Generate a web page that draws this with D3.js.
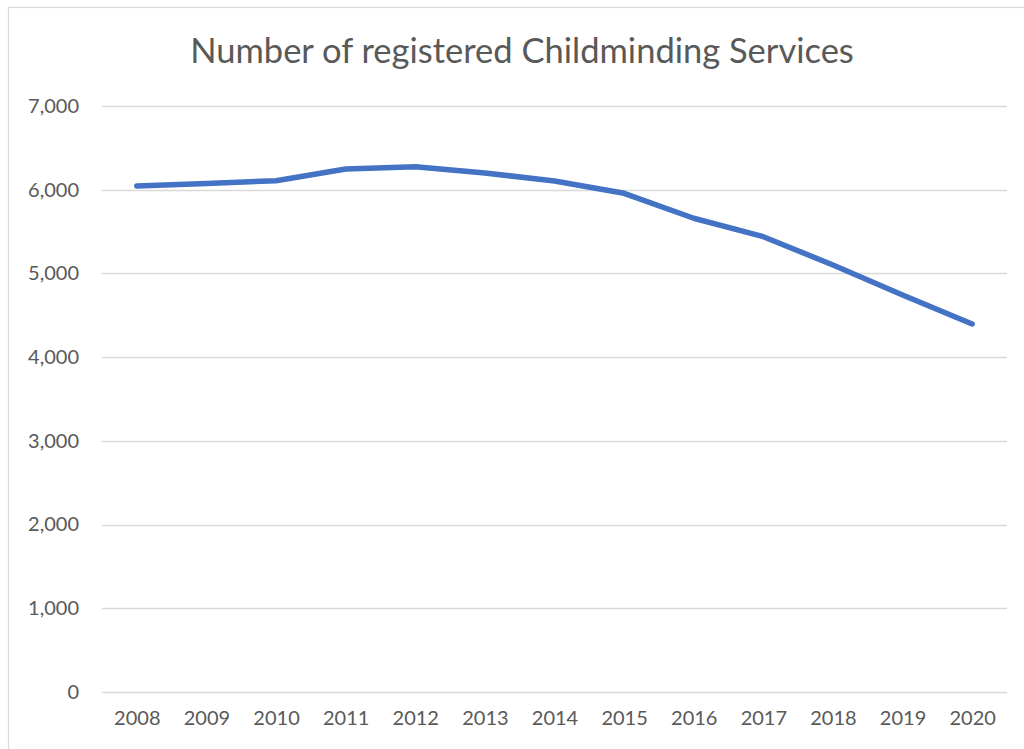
<!DOCTYPE html>
<html>
<head>
<meta charset="utf-8">
<script src="https://cdn.jsdelivr.net/npm/d3@7"></script>
<style>
  html, body { margin: 0; padding: 0; background: #ffffff; }
  svg { display: block; }
  text { font-family: Lato, "Open Sans", sans-serif; fill: #595959; }
</style>
</head>
<body>
<svg id="chart" width="1024" height="749"></svg>
<script>
// Registered childminding services per year
const years = ["2008","2009","2010","2011","2012","2013","2014","2015","2016","2017","2018","2019","2020"];
const services = [6045, 6075, 6108, 6248, 6275, 6200, 6104, 5957, 5659, 5439, 5101, 4743, 4396];
const yTicks = [0, 1000, 2000, 3000, 4000, 5000, 6000, 7000];
const titleText = "Number of registered Childminding Services";

const svg = d3.select("#chart");
const W = 1024, H = 749;
const font = "Lato, 'Open Sans', sans-serif";

// chart frame
svg.append("rect")
  .attr("x", 8.5).attr("y", 7.5)
  .attr("width", W + 10).attr("height", H + 10)
  .attr("fill", "#ffffff")
  .attr("stroke", "#d9d9d9").attr("stroke-width", 1.2);

const plot = { left: 102, right: 1007, top: 106, bottom: 692 };

const x = d3.scalePoint()
  .domain(years)
  .range([plot.left, plot.right])
  .padding(0.5);

const y = d3.scaleLinear()
  .domain([0, 7000])
  .range([plot.bottom, plot.top]);

// horizontal gridlines
svg.append("g")
  .selectAll("line")
  .data(yTicks)
  .join("line")
  .attr("x1", plot.left).attr("x2", plot.right)
  .attr("y1", d => Math.round(y(d)) + 0.5)
  .attr("y2", d => Math.round(y(d)) + 0.5)
  .attr("stroke", "#d9d9d9").attr("stroke-width", 1.5);

// y axis labels
const yAxis = d3.axisLeft(y)
  .tickValues(yTicks)
  .tickFormat(d3.format(","))
  .tickSize(0)
  .tickPadding(0);
const gy = svg.append("g")
  .attr("transform", `translate(79,0)`)
  .call(yAxis);
gy.select(".domain").remove();
gy.selectAll("text")
  .attr("font-size", 20)
  .attr("fill", "#595959")
  .attr("font-family", font);

// x axis labels
const xAxis = d3.axisBottom(x).tickSize(0).tickPadding(0);
const gx = svg.append("g")
  .attr("transform", `translate(0,${plot.bottom + 19})`)
  .call(xAxis);
gx.select(".domain").remove();
gx.selectAll("text")
  .attr("font-size", 20)
  .attr("fill", "#595959")
  .attr("font-family", font);

// series line
const line = d3.line()
  .x((d, i) => x(years[i]))
  .y(d => y(d));

svg.append("path")
  .datum(services)
  .attr("d", line)
  .attr("fill", "none")
  .attr("stroke", "#4472c4")
  .attr("stroke-width", 5.5)
  .attr("stroke-linejoin", "round")
  .attr("stroke-linecap", "round");

// title
svg.append("text")
  .attr("x", 522).attr("y", 63)
  .attr("text-anchor", "middle")
  .attr("font-size", 34.5)
  .text(titleText);
</script>
</body>
</html>
